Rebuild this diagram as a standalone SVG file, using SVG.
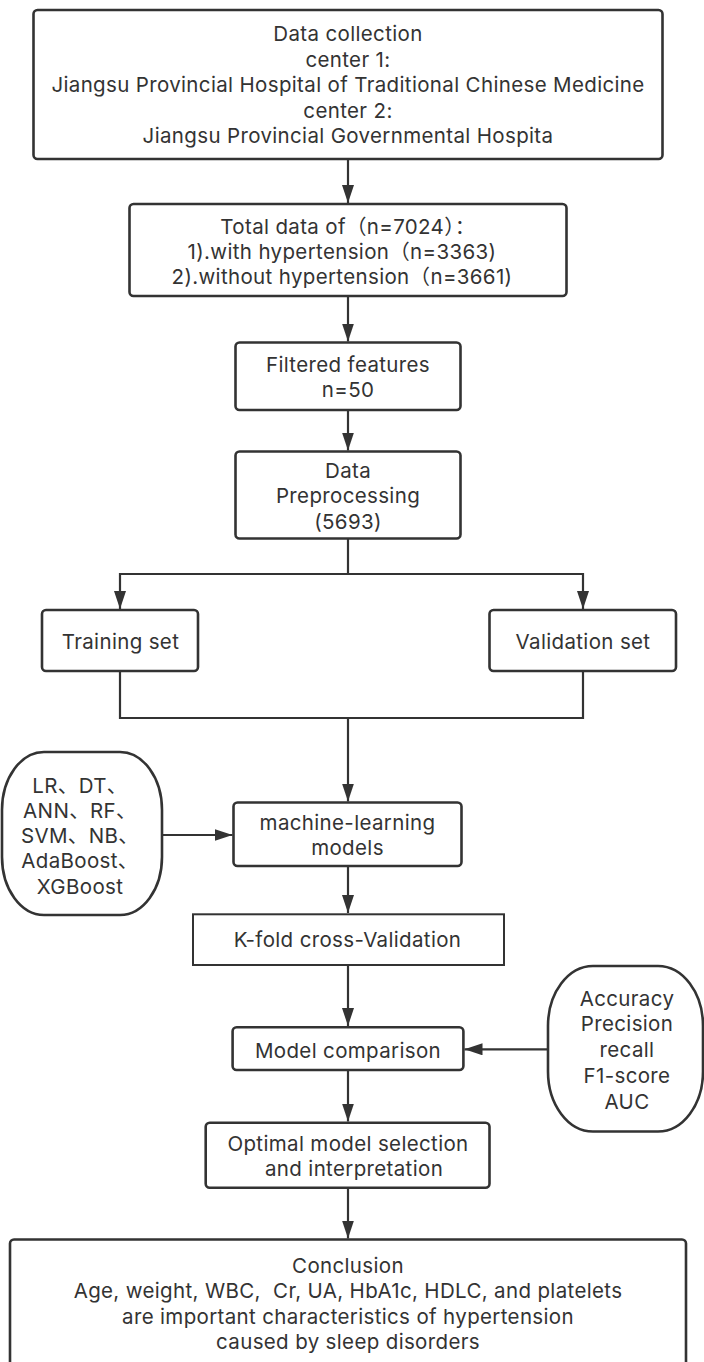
<svg xmlns="http://www.w3.org/2000/svg" width="704" height="1362" viewBox="0 0 704 1362">
<style>
.box{fill:#fff;stroke:#333;stroke-width:2.6}
.thin{fill:#fff;stroke:#333;stroke-width:2}
.t{font-family:Inter,"Open Sans","Noto Sans CJK SC",sans-serif;font-size:20.5px;letter-spacing:0.35px;fill:#333;text-anchor:middle}
.c{fill:none;stroke:#333;stroke-width:2.2}
</style>
<defs>
<marker id="ah" markerUnits="userSpaceOnUse" markerWidth="20" markerHeight="14" refX="18" refY="6" orient="auto">
<path d="M0,0 L18,6 L0,12 z" fill="#333"/>
</marker>
</defs>
<rect width="704" height="1362" fill="#fff"/>
<g id="connectors">
<line class="c" x1="348" y1="159" x2="348" y2="203" marker-end="url(#ah)"/>
<line class="c" x1="348" y1="296" x2="348" y2="341.5" marker-end="url(#ah)"/>
<line class="c" x1="348" y1="410" x2="348" y2="450.5" marker-end="url(#ah)"/>
<polyline class="c" points="348,538.5 348,574 120,574 120,609" marker-end="url(#ah)"/>
<polyline class="c" points="348,574 583,574 583,609" marker-end="url(#ah)"/>
<polyline class="c" points="120,671 120,718 583,718 583,671"/>
<line class="c" x1="348" y1="718" x2="348" y2="801.5" marker-end="url(#ah)"/>
<line class="c" x1="162" y1="835" x2="232.5" y2="835" marker-end="url(#ah)"/>
<line class="c" x1="348" y1="866" x2="348" y2="913" marker-end="url(#ah)"/>
<line class="c" x1="348" y1="965" x2="348" y2="1026" marker-end="url(#ah)"/>
<line class="c" x1="548" y1="1049.3" x2="464.5" y2="1049.3" marker-end="url(#ah)"/>
<line class="c" x1="348" y1="1070" x2="348" y2="1121.5" marker-end="url(#ah)"/>
<line class="c" x1="348" y1="1188" x2="348" y2="1238.5" marker-end="url(#ah)"/>
</g>
<g id="data-collection">
<rect class="box" x="33.5" y="10" width="629" height="149" rx="4"/>
<text class="t" x="348" y="41">Data collection</text>
<text class="t" x="348" y="66.6">center 1:</text>
<text class="t" x="348" y="92.2">Jiangsu Provincial Hospital of Traditional Chinese Medicine</text>
<text class="t" x="348" y="117.8">center 2:</text>
<text class="t" x="348" y="143.4">Jiangsu Provincial Governmental Hospita</text>
</g>
<g id="total-data">
<rect class="box" x="129.5" y="204" width="437" height="92" rx="4"/>
<text class="t" x="348" y="233.5">Total data of（n=7024）：</text>
<text class="t" x="342" y="258.5">1).with hypertension（n=3363)</text>
<text class="t" x="342" y="284">2).without hypertension（n=3661)</text>
</g>
<g id="filtered-features">
<rect class="box" x="235.5" y="342.5" width="225" height="67.5" rx="4"/>
<text class="t" x="348" y="371.5">Filtered features</text>
<text class="t" x="348" y="396.8">n=50</text>
</g>
<g id="data-preprocessing">
<rect class="box" x="235.5" y="451.5" width="225" height="87" rx="4"/>
<text class="t" x="348" y="477.5">Data</text>
<text class="t" x="348" y="503.3">Preprocessing</text>
<text class="t" x="348" y="529">(5693)</text>
</g>
<g id="training-set">
<rect class="box" x="42" y="610" width="156" height="61" rx="4"/>
<text class="t" x="120.5" y="649">Training set</text>
</g>
<g id="validation-set">
<rect class="box" x="489.5" y="610" width="186.5" height="61" rx="4"/>
<text class="t" x="583" y="649">Validation set</text>
</g>
<g id="algorithms">
<rect class="box" x="2" y="752" width="160" height="163" rx="42" ry="58"/>
<text class="t" x="80" y="792.5">LR、DT、</text>
<text class="t" x="80" y="817.5">ANN、RF、</text>
<text class="t" x="80" y="842.5">SVM、NB、</text>
<text class="t" x="80" y="868">AdaBoost、</text>
<text class="t" x="80" y="893.5">XGBoost</text>
</g>
<g id="ml-models">
<rect class="box" x="233.5" y="802.5" width="228" height="63.5" rx="4"/>
<text class="t" x="347.5" y="830">machine-learning</text>
<text class="t" x="347.5" y="855">models</text>
</g>
<g id="kfold">
<rect class="thin" x="193" y="914.3" width="311" height="50.7"/>
<text class="t" x="347.5" y="946.8">K-fold cross-Validation</text>
</g>
<g id="model-comparison">
<rect class="box" x="232.6" y="1027.3" width="230.8" height="42.7" rx="4"/>
<text class="t" x="348" y="1057.5">Model comparison</text>
</g>
<g id="metrics">
<rect class="box" x="548" y="966" width="155" height="165.5" rx="45" ry="60"/>
<text class="t" x="627" y="1006">Accuracy</text>
<text class="t" x="627" y="1031">Precision</text>
<text class="t" x="627" y="1057">recall</text>
<text class="t" x="627" y="1082.5">F1-score</text>
<text class="t" x="627" y="1109">AUC</text>
</g>
<g id="optimal-model">
<rect class="box" x="205.7" y="1122.7" width="283.8" height="65" rx="4"/>
<text class="t" x="348" y="1151">Optimal model selection</text>
<text class="t" x="351" y="1176" xml:space="preserve"> and interpretation</text>
</g>
<g id="conclusion">
<rect class="box" x="10" y="1239.5" width="676" height="130" rx="4"/>
<text class="t" x="348" y="1272.5">Conclusion</text>
<text class="t" x="348" y="1298" xml:space="preserve">Age, weight, WBC,  Cr, UA, HbA1c, HDLC, and platelets</text>
<text class="t" x="348" y="1323.5">are important characteristics of hypertension</text>
<text class="t" x="348" y="1349">caused by sleep disorders</text>
</g>
</svg>
